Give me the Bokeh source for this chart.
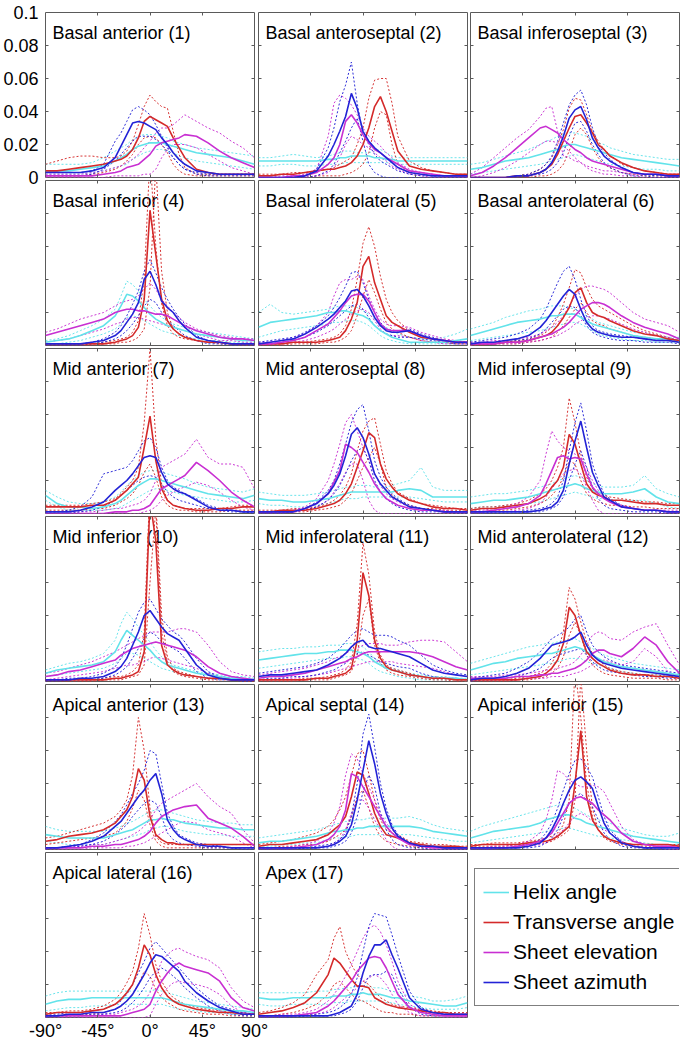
from bokeh.plotting import figure
from bokeh.layouts import gridplot, column, row
from bokeh.models import (LinearAxis, FixedTicker, CustomJSTickFormatter, Label,
                          Legend, LegendItem)
from bokeh.embed import file_html
from bokeh.resources import INLINE

# angle grid (degrees) shared by every curve
ANGLES = [-90, -80, -70, -60, -50, -40, -30, -25, -20, -15, -10, -5, 0,
          5, 10, 15, 20, 25, 30, 40, 50, 60, 70, 80, 90]
# all curve values below are in units of 0.001 (probability density)
UNIT = 0.001

SERIES = ["Helix angle", "Transverse angle", "Sheet elevation", "Sheet azimuth"]
COLORS = ["#62e3ea", "#d42a2a", "#c82fd2", "#2323d6"]

TITLES = ["Basal anterior (1)", "Basal anteroseptal (2)", "Basal inferoseptal (3)",
          "Basal inferior (4)", "Basal inferolateral (5)", "Basal anterolateral (6)",
          "Mid anterior (7)", "Mid anteroseptal (8)", "Mid inferoseptal (9)",
          "Mid inferior (10)", "Mid inferolateral (11)", "Mid anterolateral (12)",
          "Apical anterior (13)", "Apical septal (14)", "Apical inferior (15)",
          "Apical lateral (16)", "Apex (17)"]

Y_TICKS = [0, 0.02, 0.04, 0.06, 0.08, 0.1]
X_TICKS = [-90, -45, 0, 45, 90]

# each series: (solid curve, dotted curve a, dotted curve b)
hx1 = ([4,4,4,5,6,7,10,12,14,17,19,20,21,21,21,20,19,18,17,15,14,13,12,10,8],
       [8,8,8,8,9,12,16,18,20,23,25,26,26,26,25,24,22,21,20,18,17,16,15,14,13],
       [2,2,2,2,3,4,6,7,8,11,13,15,16,17,17,16,15,13,12,10,9,8,7,6,5])
tr1 = ([4,4,5,6,7,8,10,11,13,17,24,34,37,35,33,31,24,18,12,5,3,2,2,2,2],
       [8,10,12,13,13,12,12,13,16,22,32,43,50,46,43,42,28,14,6,2,2,2,2,2,2],
       [1,1,1,1,2,3,5,7,10,14,20,24,25,24,20,15,8,4,2,1,1,1,1,1,1])
el1 = ([1,1,1,1,1,2,3,4,6,7,8,11,14,19,21,22,23,24,26,25,21,16,12,9,6],
       [2,2,2,2,3,4,6,7,9,11,14,18,22,27,30,30,32,35,38,34,30,27,22,18,12],
       [0,0,0,0,0,0,1,1,1,1,1,2,2,5,12,17,20,20,20,18,14,10,6,4,2])
az1 = ([3,3,3,3,4,6,12,19,26,33,34,33,31,29,24,20,15,11,8,4,3,2,2,2,2],
       [3,3,3,3,4,8,22,27,34,41,43,41,38,32,25,18,12,8,5,3,2,2,2,2,2],
       [1,1,1,1,2,5,10,14,18,22,25,25,25,23,20,16,12,8,5,2,1,1,1,1,1])

hx2 = ([10,10,10,10,10,10,11,11,12,12,13,13,13,13,12,12,11,11,10,10,10,10,10,10,10],
       [12,12,13,14,13,12,13,14,15,16,16,15,15,15,16,17,15,13,12,12,12,12,12,12,12],
       [7,7,8,8,7,7,8,8,8,9,9,9,9,9,9,9,9,9,8,8,8,8,8,8,8])
tr2 = ([1,1,2,2,3,4,5,5,6,7,9,13,20,30,43,49,40,28,16,7,5,4,3,2,2],
       [2,2,2,3,3,4,5,6,8,10,12,20,30,48,59,60,60,45,25,10,6,4,3,2,2],
       [0,0,0,0,0,1,1,1,1,2,3,5,8,15,30,40,38,20,8,3,2,1,1,1,1])
el2 = ([0,0,0,1,1,3,8,12,20,34,38,33,26,21,17,15,12,10,8,4,3,2,1,1,1],
       [0,0,1,1,2,5,25,45,50,48,44,38,30,25,22,19,15,12,9,5,3,2,1,1,1],
       [0,0,0,0,0,1,3,6,12,20,25,23,20,18,15,12,10,7,5,2,1,0,0,0,0])
az2 = ([0,0,0,0,1,4,13,20,28,37,51,42,28,22,18,15,12,9,6,3,2,1,1,1,1],
       [0,0,0,0,1,5,18,30,46,56,70,45,26,20,14,10,8,6,4,2,1,1,1,1,1],
       [0,0,0,0,0,1,4,8,15,22,30,36,22,8,3,1,0,0,0,0,0,0,0,0,0])

hx3 = ([5,6,8,10,11,12,14,15,16,17,19,20,20,19,18,17,16,15,14,12,11,10,9,8,7],
       [8,9,11,13,15,17,20,22,23,25,26,27,27,26,25,23,21,20,18,16,14,13,12,11,11],
       [2,3,4,5,6,7,8,9,10,11,12,13,14,13,12,11,10,9,8,7,6,5,5,4,4])
tr3 = ([0,0,0,0,1,1,3,5,8,14,22,30,37,38,33,27,20,17,13,9,6,4,3,2,2],
       [0,0,0,0,1,2,5,8,12,20,29,42,48,47,38,28,22,17,14,8,6,4,3,2,2],
       [0,0,0,0,0,0,1,1,2,4,8,16,26,30,26,18,12,8,6,3,2,1,1,1,1])
el3 = ([1,3,7,12,18,24,30,31,29,27,23,20,17,15,12,10,9,8,7,5,3,2,2,1,1],
       [2,6,12,18,24,29,37,42,43,28,13,12,10,9,7,6,5,4,4,3,2,2,2,2,2],
       [0,1,3,6,10,15,20,22,22,21,19,16,12,9,6,4,3,2,2,1,1,0,0,0,0])
az3 = ([0,0,0,0,1,1,3,5,9,16,25,36,41,43,35,24,18,13,10,6,3,2,2,1,1],
       [0,0,0,0,1,2,5,8,13,22,33,44,50,53,44,30,20,15,11,6,3,2,1,1,1],
       [0,0,0,0,0,1,2,3,5,9,15,25,33,34,28,20,14,9,6,3,1,1,0,0,0])

hx4 = ([2,3,4,6,9,12,18,24,31,30,27,23,19,16,14,12,11,10,9,7,6,5,4,3,3],
       [3,4,6,9,12,16,22,30,39,37,33,28,24,20,17,15,13,12,11,9,8,7,6,5,4],
       [1,1,2,3,5,7,10,13,17,18,17,15,13,11,9,8,7,6,5,4,3,3,2,2,2])
tr4 = ([1,1,1,1,1,1,2,3,4,6,11,28,82,55,28,15,10,7,5,3,2,2,1,1,1],
       [1,1,1,1,1,2,3,4,5,8,15,40,115,60,25,12,7,5,4,3,2,2,1,1,1],
       [0,0,0,0,0,1,1,2,2,3,5,10,35,110,45,20,10,7,5,3,2,1,1,0,0])
el4 = ([6,8,10,12,14,16,20,21,22,22,21,21,20,19,19,18,16,14,12,9,7,5,4,4,3],
       [8,10,13,16,18,20,24,26,27,28,30,34,38,34,28,24,20,17,14,10,8,6,5,4,4],
       [2,3,4,6,8,10,13,14,16,17,17,16,15,14,13,12,11,10,9,7,5,3,3,2,2])
az4 = ([1,1,1,1,2,3,6,9,14,19,26,40,45,37,27,23,20,15,11,5,3,2,1,1,1],
       [1,1,1,1,2,4,8,12,18,25,33,45,52,44,35,28,22,17,13,6,3,2,1,1,1],
       [0,0,0,0,1,2,4,6,9,13,18,24,28,26,20,15,12,9,6,3,1,1,0,0,0])

hx5 = ([11,14,15,16,17,18,20,20,21,21,20,19,18,16,12,9,7,5,4,2,2,2,2,3,4],
       [20,25,20,19,20,21,22,23,24,24,24,23,21,19,16,13,11,9,7,5,4,4,5,7,10],
       [5,7,9,10,11,12,13,14,14,15,15,15,14,12,9,6,4,3,2,1,1,1,1,1,2])
tr5 = ([1,1,1,2,2,2,3,4,5,9,16,26,48,54,38,28,18,14,12,8,5,4,3,2,2],
       [1,1,1,2,2,3,4,5,7,12,22,40,62,72,60,42,28,20,15,9,6,4,3,2,2],
       [0,0,0,1,1,1,2,2,3,5,9,18,30,40,32,22,14,10,8,5,3,2,2,1,1])
el5 = ([1,1,2,3,5,9,13,17,21,26,30,31,31,27,20,13,10,9,9,9,6,4,3,2,2],
       [2,2,3,5,7,12,20,30,38,40,40,42,40,30,22,16,13,12,12,11,8,6,4,3,2],
       [0,1,1,2,3,5,8,10,13,16,19,21,22,20,15,10,7,6,6,5,3,2,1,1,1])
az5 = ([1,2,3,4,7,11,16,19,23,27,33,34,30,24,17,12,9,8,8,9,6,4,3,2,2],
       [2,3,4,5,8,12,18,23,29,36,44,45,38,28,20,14,10,9,9,10,7,5,3,2,2],
       [1,1,2,3,5,8,12,15,18,21,24,25,22,17,12,9,7,6,5,5,4,3,2,1,1])

hx6 = ([6,8,10,12,14,15,16,17,18,18,19,19,19,17,15,13,12,11,10,8,6,5,4,4,3],
       [10,12,14,17,19,21,22,23,24,24,24,23,22,20,18,16,14,13,12,10,8,7,6,5,5],
       [3,4,5,6,7,8,9,10,11,12,13,14,14,13,11,9,7,6,5,4,3,3,2,2,2])
tr6 = ([1,1,1,2,2,3,5,6,8,12,17,23,32,35,26,20,18,17,15,12,9,7,6,4,3],
       [1,1,2,2,3,4,6,8,11,17,25,35,46,44,35,28,24,22,20,16,12,9,7,5,3],
       [0,0,1,1,1,2,3,4,5,8,12,17,22,26,20,15,13,12,10,8,6,5,4,3,2])
el6 = ([1,1,1,2,2,3,5,6,7,9,11,14,18,22,24,26,26,25,23,18,14,11,9,7,4],
       [2,2,3,3,4,5,7,9,11,14,18,24,30,34,36,36,35,34,32,26,20,16,14,12,8],
       [0,1,1,1,1,2,3,4,5,6,8,10,13,15,17,18,18,17,16,13,10,8,6,5,3])
az6 = ([1,2,2,3,4,6,11,15,20,25,30,34,31,22,14,10,8,7,6,5,5,4,3,3,2],
       [2,3,4,5,7,10,16,22,30,38,45,48,40,28,18,12,9,8,7,6,5,4,4,3,3],
       [1,1,1,2,3,4,7,10,14,18,22,24,23,18,12,8,6,5,4,3,3,2,2,2,1])

hx7 = ([11,6,4,4,3,4,6,8,11,14,17,19,21,21,20,19,18,17,16,14,12,11,10,9,11],
       [14,10,7,6,6,7,10,13,17,20,23,25,26,26,25,24,23,22,21,18,16,15,14,13,15],
       [8,4,2,2,2,2,3,4,6,8,10,12,14,15,15,14,13,12,11,10,9,8,7,7,8])
tr7 = ([4,4,4,4,5,5,8,11,14,18,22,40,59,32,15,8,5,4,3,2,2,3,3,4,4],
       [5,5,5,5,6,7,9,12,16,20,28,55,100,45,18,8,5,4,3,3,3,3,4,5,5],
       [2,2,2,2,3,3,5,7,9,12,17,25,30,22,10,5,3,2,2,1,1,1,2,2,2])
el7 = ([0,0,0,0,0,0,1,1,1,2,2,3,5,10,15,17,19,21,23,31,26,20,13,8,4],
       [1,1,1,1,1,2,3,3,4,5,6,8,12,20,28,30,32,34,36,45,34,30,30,28,15],
       [0,0,0,0,0,0,0,0,0,0,0,1,2,4,8,11,13,15,16,19,17,13,8,4,2])
az7 = ([1,1,1,2,4,7,14,17,20,24,29,34,35,34,25,18,15,13,12,8,4,2,2,1,1],
       [1,1,2,4,10,24,26,27,28,32,38,44,46,40,28,20,16,14,12,9,5,3,2,1,1],
       [0,0,0,1,2,4,8,11,14,17,20,22,23,22,18,13,10,8,7,5,3,2,1,1,0])

hx8 = ([9,8,8,7,7,8,9,10,11,12,13,13,13,13,13,13,13,13,14,15,14,10,10,10,10],
       [13,12,11,11,11,12,13,14,15,16,16,17,17,17,16,16,16,17,18,20,28,16,14,14,14],
       [6,5,5,4,4,5,6,7,8,9,9,9,10,10,10,10,10,10,10,10,9,8,7,7,7])
tr8 = ([1,1,2,2,2,3,5,6,8,12,18,28,38,49,46,30,21,16,12,8,6,4,3,3,2],
       [2,2,2,3,3,4,6,8,11,16,24,38,50,56,58,42,26,18,13,9,6,5,4,3,3],
       [1,1,1,1,1,2,3,4,5,8,12,20,28,34,40,30,16,11,8,5,3,3,2,2,1])
el8 = ([1,1,1,1,3,6,12,19,26,42,40,37,31,25,18,13,9,7,5,3,2,2,1,1,1],
       [1,1,1,2,4,9,20,30,42,55,60,50,40,32,24,17,12,9,7,4,3,2,2,1,1],
       [0,0,0,1,2,4,8,13,18,25,30,30,20,8,2,0,0,0,0,0,0,0,0,0,0])
az8 = ([1,1,1,1,3,6,12,17,24,35,48,52,46,36,24,18,14,10,8,4,3,2,1,1,1],
       [1,1,1,1,3,7,14,20,30,42,55,63,66,50,32,22,16,12,9,5,3,2,1,1,1],
       [0,0,0,1,2,4,8,12,17,24,32,38,40,32,20,13,9,6,4,2,1,1,1,0,0])

hx9 = ([6,7,8,8,9,10,12,13,14,15,16,17,18,17,15,14,13,12,12,12,13,15,10,7,6],
       [10,11,12,12,13,14,16,17,18,20,21,22,23,22,20,18,17,16,16,16,17,23,15,12,10],
       [3,4,4,5,5,6,7,8,9,10,11,12,13,12,11,10,9,9,8,8,8,8,6,4,3])
tr9 = ([2,3,3,4,5,6,9,11,16,20,28,48,42,30,18,13,11,10,8,8,7,6,6,5,5],
       [3,4,4,5,6,8,12,15,20,28,40,70,55,36,22,15,12,11,10,9,8,7,7,6,6],
       [1,1,2,2,3,4,6,8,11,15,22,32,30,20,12,9,7,6,5,5,4,4,3,3,3])
el9 = ([1,1,2,3,4,6,11,18,26,34,35,33,34,33,24,16,12,9,7,4,3,2,2,1,1],
       [2,2,3,4,6,10,20,36,50,44,40,38,36,34,28,20,14,10,8,5,3,2,2,2,2],
       [0,0,1,1,2,3,6,10,15,20,24,26,27,24,16,8,2,0,0,0,0,0,0,0,0])
az9 = ([1,1,1,1,1,1,2,3,4,7,14,30,44,56,40,25,17,10,8,4,3,2,2,1,1],
       [1,1,1,1,1,2,3,4,6,10,20,38,55,67,50,30,20,12,9,5,3,2,2,1,1],
       [0,0,0,0,0,1,1,2,3,5,10,20,30,38,28,16,9,5,3,2,1,1,1,0,0])

hx10 = ([5,7,8,9,10,12,18,25,31,28,25,22,19,15,12,10,9,8,7,5,4,3,2,2,1],
        [7,9,11,12,14,17,25,35,42,38,33,28,24,19,15,12,10,9,8,6,5,4,3,3,2],
        [3,4,5,6,7,8,11,14,17,17,16,14,12,10,8,7,6,5,4,3,2,2,1,1,1])
tr10 = ([1,1,1,1,1,1,2,2,3,4,6,18,110,85,22,10,7,5,4,3,2,2,1,1,1],
        [1,1,1,1,1,2,3,3,4,6,10,30,120,110,40,15,8,6,5,3,2,2,1,1,1],
        [0,0,0,0,0,1,1,1,2,3,4,10,60,105,30,12,6,4,3,2,1,1,1,0,0])
el10 = ([3,4,6,7,9,11,13,16,18,20,21,22,23,24,23,22,21,20,19,15,9,5,3,2,1],
        [5,6,8,10,12,15,18,20,22,24,26,28,30,30,30,30,31,32,32,30,22,12,6,4,3],
        [1,2,3,4,5,6,8,9,10,10,11,12,14,15,14,13,12,11,10,8,5,3,2,1,1])
az10 = ([1,1,1,2,2,3,6,9,14,22,30,40,43,38,33,29,27,25,20,10,4,2,1,1,1],
        [1,1,2,2,3,5,9,14,22,32,42,48,50,44,38,34,30,28,24,14,6,3,2,1,1],
        [0,0,1,1,1,2,4,6,9,14,20,26,30,28,24,22,20,18,14,6,2,1,1,0,0])

hx11 = ([13,14,15,16,17,17,18,18,19,19,19,18,17,15,12,10,8,7,6,4,3,2,2,2,1],
        [18,19,20,20,21,21,22,22,22,23,23,22,21,18,14,11,9,8,7,5,4,3,3,2,2],
        [8,9,10,11,12,13,14,14,14,15,15,14,13,11,8,6,5,4,3,2,1,1,1,1,0])
tr11 = ([1,1,1,1,1,2,2,3,4,5,8,25,66,52,25,14,9,7,6,4,3,2,2,1,1],
        [1,1,1,1,2,2,3,4,5,7,12,35,84,65,30,16,10,8,7,5,3,2,2,1,1],
        [0,0,0,0,1,1,1,2,3,4,6,16,40,50,22,11,7,5,4,3,2,1,1,0,0])
el11 = ([2,3,3,4,5,7,9,10,11,12,14,15,17,18,18,18,18,18,18,18,17,15,12,9,7],
        [4,5,6,7,8,10,12,14,15,17,19,20,22,23,23,23,22,22,22,24,25,25,24,18,12],
        [1,1,2,2,3,4,5,6,7,8,9,10,11,12,12,12,12,12,11,10,9,8,6,4,3])
az11 = ([3,4,4,5,6,7,10,12,14,17,21,24,25,21,20,20,19,18,17,15,11,7,5,4,3],
        [5,6,7,8,9,11,14,17,20,24,28,31,32,30,28,28,28,27,25,22,16,10,7,5,4],
        [1,2,2,3,3,4,6,7,9,11,14,17,18,16,14,12,11,10,9,8,5,3,2,2,1])

hx12 = ([7,9,11,12,14,15,16,17,17,18,19,20,21,20,18,16,14,12,11,9,8,7,6,5,4],
        [11,13,15,17,19,21,22,23,23,24,25,25,26,24,22,20,18,16,15,13,11,10,9,8,7],
        [4,5,6,7,8,9,10,11,11,12,13,14,14,14,12,11,10,9,8,6,5,4,4,3,3])
tr12 = ([1,1,1,1,1,2,3,5,8,13,23,45,40,28,18,14,11,9,7,5,4,4,3,3,2],
        [1,1,1,1,2,3,5,7,11,18,30,57,50,36,24,17,13,10,8,6,5,4,4,3,3],
        [0,0,0,0,1,1,2,3,5,8,15,28,36,28,16,10,7,5,4,3,2,2,2,1,1])
el12 = ([2,2,2,2,3,3,4,4,5,5,6,7,8,10,13,17,19,19,17,15,20,27,22,12,5],
        [3,3,3,4,4,5,6,7,7,8,9,10,12,16,22,28,30,29,26,25,30,33,35,22,10],
        [1,1,1,1,1,2,2,2,3,3,3,4,5,6,8,10,12,13,12,10,12,20,15,6,2])
az12 = ([1,2,2,3,5,8,14,18,22,23,24,25,27,30,22,16,13,11,10,8,7,6,5,4,3],
        [2,3,4,5,8,12,18,22,26,28,30,33,38,40,30,22,18,15,13,10,9,8,7,6,5],
        [0,1,1,2,3,5,8,11,14,16,17,18,19,20,16,12,9,7,6,5,4,3,3,2,2])

hx13 = ([9,8,7,7,7,7,9,10,11,12,14,16,18,18,19,18,18,17,16,15,14,13,13,12,12],
        [14,12,11,11,11,11,13,14,16,17,19,21,23,24,24,23,22,21,20,18,17,16,16,15,15],
        [5,4,3,3,3,3,5,6,7,8,9,10,12,13,14,14,13,12,11,10,9,9,8,8,8])
tr13 = ([5,6,8,9,10,12,16,20,24,32,49,42,20,9,6,4,4,3,3,3,3,3,3,3,3],
        [7,8,10,12,14,16,20,24,30,45,80,60,25,8,4,3,3,3,3,3,3,3,3,3,3],
        [3,4,5,6,7,8,10,13,17,25,36,30,15,5,2,1,1,1,1,1,1,1,1,1,1])
el13 = ([1,1,1,1,2,2,3,3,4,5,6,8,11,16,20,22,24,25,26,27,19,16,13,8,2],
        [1,1,2,2,3,3,5,6,7,9,11,14,18,24,28,30,32,34,36,40,32,26,22,12,4],
        [0,0,0,0,1,1,1,1,2,2,3,4,6,8,10,12,14,16,17,16,12,10,8,4,1])
az13 = ([1,1,2,3,5,8,14,17,22,27,32,36,42,46,34,18,12,8,6,3,2,2,1,1,1],
        [1,1,2,3,6,10,17,21,27,34,40,48,60,58,40,22,14,9,7,4,3,2,1,1,1],
        [0,1,1,2,3,5,9,12,15,20,24,28,30,28,20,10,6,4,3,2,1,1,1,0,0])

hx14 = ([4,5,5,6,7,8,10,11,11,12,12,13,13,14,14,14,14,14,14,14,13,11,10,9,8],
        [7,8,9,10,11,12,14,15,16,17,17,18,18,19,19,19,19,19,19,20,18,15,13,12,11],
        [2,2,3,3,4,4,6,7,7,8,8,9,9,9,9,9,9,9,9,9,8,7,6,5,5])
tr14 = ([2,3,3,4,5,6,9,12,15,20,32,47,45,34,22,14,9,8,7,4,3,2,2,2,1],
        [3,4,5,6,8,10,14,18,24,32,45,58,60,46,30,18,12,10,9,5,4,3,3,2,2],
        [1,1,2,2,3,3,5,7,9,12,20,32,36,25,14,8,5,4,3,2,1,1,1,1,1])
el14 = ([1,1,1,1,2,3,6,9,14,24,46,44,38,32,26,20,14,10,7,3,2,1,1,1,1],
        [1,1,1,2,3,5,10,16,26,45,58,55,46,38,30,22,16,12,8,4,2,2,1,1,1],
        [0,0,0,0,1,1,2,4,6,12,22,30,30,25,18,12,6,2,0,0,0,0,0,0,0])
az14 = ([1,1,1,1,1,1,2,3,5,8,15,30,48,66,52,34,22,13,8,4,2,2,1,1,1],
        [1,1,1,1,1,2,3,4,6,10,20,40,70,82,62,40,25,15,9,4,2,2,1,1,1],
        [0,0,0,0,1,1,1,2,3,5,10,20,35,45,38,22,12,6,3,1,1,0,0,0,0])

hx15 = ([7,9,11,12,13,14,16,18,19,20,21,21,19,18,16,15,14,13,12,10,8,7,6,5,4],
        [11,14,16,18,20,22,24,25,26,27,27,27,25,23,21,19,18,17,16,13,11,9,8,8,10],
        [4,5,6,7,8,9,10,11,12,12,13,13,12,11,10,9,8,8,7,6,5,4,3,3,3])
tr15 = ([2,3,3,3,3,4,5,5,6,8,11,14,40,72,32,18,12,8,6,4,3,3,3,3,2],
        [3,3,4,4,4,5,6,7,8,10,15,30,110,80,40,20,12,8,6,4,3,3,3,3,3],
        [2,2,2,2,3,3,4,4,5,7,9,12,30,105,60,25,12,7,5,3,2,2,2,2,2])
el15 = ([1,1,1,1,2,3,5,7,10,16,22,28,31,32,30,28,24,21,18,10,5,3,2,2,1],
        [1,1,2,2,3,5,10,18,30,48,46,42,40,38,38,39,38,35,28,14,6,3,2,2,2],
        [0,0,0,1,1,2,3,4,6,9,12,16,20,22,20,17,14,12,10,5,2,1,1,0,0])
az15 = ([1,1,1,1,1,2,4,7,12,19,28,36,42,44,41,37,26,16,10,4,2,1,1,1,1],
        [1,1,1,1,2,3,6,10,16,25,36,46,54,55,50,44,32,20,12,5,2,1,1,1,1],
        [0,0,0,1,1,1,2,4,7,12,20,28,32,34,30,26,18,10,6,2,1,1,0,0,0])

hx16 = ([8,10,11,11,12,12,12,12,12,12,12,12,12,12,12,11,10,9,8,7,6,5,4,4,3],
        [13,15,16,16,16,16,16,16,16,16,16,16,16,17,16,15,14,13,12,10,9,8,7,6,5],
        [4,5,6,6,7,7,8,8,8,8,8,8,8,8,8,7,6,5,5,4,3,3,2,2,2])
tr16 = ([2,3,3,3,4,5,8,11,15,20,30,44,38,26,18,13,10,8,7,5,4,3,3,2,2],
        [3,3,4,4,5,7,11,15,21,28,42,63,50,32,22,16,12,10,8,6,5,4,3,3,2],
        [1,1,1,2,2,3,5,7,10,14,20,28,25,17,12,9,7,5,4,3,2,2,1,1,1])
el16 = ([1,1,1,1,1,1,1,1,2,3,4,5,8,16,22,27,31,33,31,29,27,22,12,6,4],
        [1,1,1,1,1,2,2,3,4,5,7,10,15,25,34,38,41,42,40,37,35,30,18,10,6],
        [0,0,0,0,0,0,0,0,0,0,0,0,1,8,14,18,21,22,21,20,18,14,7,3,2])
az16 = ([1,1,2,2,3,3,5,7,10,14,20,26,33,38,37,34,31,28,22,15,10,6,4,2,2],
        [2,2,3,3,4,5,8,10,14,20,27,34,42,46,42,38,34,30,26,18,12,7,5,3,2],
        [0,1,1,1,2,2,3,4,6,9,13,18,24,28,30,28,25,22,18,12,7,4,2,1,1])

hx17 = ([12,11,11,12,12,12,12,13,13,13,14,14,15,14,14,14,13,12,12,10,9,8,7,7,9],
        [15,15,15,15,15,16,16,17,17,18,18,19,19,19,18,18,17,16,15,13,12,10,10,11,13],
        [8,7,7,8,8,8,8,9,9,9,10,10,10,10,10,10,9,9,8,7,6,5,5,5,6])
tr17 = ([2,3,4,6,9,15,26,36,33,28,23,19,19,18,12,10,8,7,6,5,4,3,3,2,2],
        [3,4,6,9,14,26,35,48,55,40,32,26,22,20,16,12,10,8,7,6,5,4,3,3,3],
        [1,1,2,3,5,8,14,20,22,18,14,11,10,8,6,4,3,3,2,2,1,1,1,1,1])
el17 = ([1,1,1,1,2,3,7,10,14,18,22,28,32,36,37,36,30,22,14,6,3,2,1,1,1],
        [1,1,2,2,3,5,10,14,19,25,32,40,48,54,56,52,44,34,22,8,4,2,2,1,1],
        [0,0,0,1,1,2,4,6,9,12,15,18,22,24,26,24,20,14,8,3,1,1,0,0,0])
az17 = ([1,1,1,1,1,1,1,2,3,5,7,14,27,37,44,44,47,38,30,12,5,3,2,2,2],
        [1,1,1,1,2,2,3,4,6,9,14,24,40,55,63,62,61,50,38,16,6,3,2,2,2],
        [0,0,0,0,1,1,1,1,2,3,5,10,18,25,26,26,28,26,18,6,2,1,1,1,1])

PANELS = [(hx1, tr1, el1, az1), (hx2, tr2, el2, az2), (hx3, tr3, el3, az3),
          (hx4, tr4, el4, az4), (hx5, tr5, el5, az5), (hx6, tr6, el6, az6),
          (hx7, tr7, el7, az7), (hx8, tr8, el8, az8), (hx9, tr9, el9, az9),
          (hx10, tr10, el10, az10), (hx11, tr11, el11, az11), (hx12, tr12, el12, az12),
          (hx13, tr13, el13, az13), (hx14, tr14, el14, az14), (hx15, tr15, el15, az15),
          (hx16, tr16, el16, az16), (hx17, tr17, el17, az17)]

FONT = "Liberation Sans"
FRAME_COLOR = "#5a5a5a"
FW, FH = 209, 165          # plot frame of each small panel, px
YLAB_W = 45                # width of the shared y tick-label strip
TOP0 = 12                  # space above the first row of panels
RIGHT_PAD = [2, 1, 6]      # right border per column
LEFT_PAD = [0, 2, 2]       # left border per column


def tick_axis(ticks):
    ax = LinearAxis(ticker=FixedTicker(ticks=ticks))
    ax.axis_line_color = None
    ax.major_tick_in = 3
    ax.major_tick_out = 0
    ax.major_tick_line_color = FRAME_COLOR
    ax.minor_tick_line_color = None
    ax.major_label_text_font_size = "0px"
    ax.major_label_text_color = None
    ax.major_label_standoff = 0
    return ax


def make_panel(idx):
    r, c = divmod(idx, 3)
    left, right = LEFT_PAD[c], RIGHT_PAD[c]
    top = TOP0 if r == 0 else 1
    bottom = 2
    p = figure(width=FW + left + right, height=FH + top + bottom,
               x_range=(-90, 90), y_range=(0, 0.1),
               x_axis_location=None, y_axis_location=None,
               toolbar_location=None, tools="", output_backend="svg",
               min_border_left=left, min_border_right=right,
               min_border_top=top, min_border_bottom=bottom)
    p.xgrid.visible = False
    p.ygrid.visible = False
    p.outline_line_color = FRAME_COLOR
    p.outline_line_width = 1
    p.background_fill_color = "white"
    p.border_fill_color = "white"

    p.add_layout(tick_axis(Y_TICKS[1:-1]), "left")
    p.add_layout(tick_axis(Y_TICKS[1:-1]), "right")
    p.add_layout(tick_axis(X_TICKS[1:-1]), "below")
    p.add_layout(tick_axis(X_TICKS[1:-1]), "above")

    p.add_layout(Label(x=-90, y=0.1, x_offset=7, y_offset=-20, text=TITLES[idx],
                       text_font=FONT, text_font_size="18px", text_color="black",
                       text_baseline="alphabetic", level="underlay"))

    series = PANELS[idx]
    for (solid, da, db), color in zip(series, COLORS):
        for d in (da, db):
            p.line(ANGLES, [v * UNIT for v in d], line_color=color,
                   line_width=1, line_dash="2 2", line_alpha=0.95)
    for (solid, da, db), color in zip(series, COLORS):
        p.line(ANGLES, [v * UNIT for v in solid], line_color=color, line_width=1.6)
    return p


figs = [make_panel(i) for i in range(len(PANELS))]

# legend cell (row 6, column 3)
lf = figure(width=FW + LEFT_PAD[2] + RIGHT_PAD[2], height=FH + 3,
            x_range=(0, 1), y_range=(0, 1),
            x_axis_location=None, y_axis_location=None, toolbar_location=None,
            tools="", output_backend="svg", min_border_left=LEFT_PAD[2],
            min_border_right=RIGHT_PAD[2], min_border_top=1, min_border_bottom=2,
            outline_line_color=None)
lf.xgrid.visible = False
lf.ygrid.visible = False
items = []
for name, color in zip(SERIES, COLORS):
    # legend proxy line placed outside the visible range of this empty cell
    rnd = lf.line(x=[0, 1], y=[-1, -1], line_color=color, line_width=1.6)
    items.append(LegendItem(label=name, renderers=[rnd]))
legend = Legend(items=items, location=(4, 11), margin=0, padding=8, spacing=0,
                glyph_width=26, glyph_height=30, label_height=30, label_standoff=4,
                label_text_font=FONT, label_text_font_size="21px",
                label_text_color="black", border_line_color="black",
                border_line_width=1.5, background_fill_color="white",
                background_fill_alpha=1.0)
lf.add_layout(legend)

rows = [figs[i:i + 3] for i in range(0, 15, 3)]
rows.append([figs[15], figs[16], lf])
grid = gridplot(rows, toolbar_location=None)

GRID_H = TOP0 + FH + 2 + 5 * (FH + 3)

# y tick labels (shared strip aligned with the first panel)
yf = figure(width=YLAB_W, height=GRID_H, x_range=(0, 1), y_range=(0, 0.1),
            x_axis_location=None, y_axis_location=None, toolbar_location=None,
            tools="", output_backend="svg", min_border_left=YLAB_W - 1,
            min_border_right=0, min_border_top=TOP0,
            min_border_bottom=GRID_H - TOP0 - FH, outline_line_color=None)
yf.xgrid.visible = False
yf.ygrid.visible = False
ya = LinearAxis(ticker=FixedTicker(ticks=Y_TICKS),
                formatter=CustomJSTickFormatter(code="return String(Math.round(tick*100)/100);"))
ya.axis_line_color = None
ya.major_tick_line_color = None
ya.minor_tick_line_color = None
ya.major_tick_in = 0
ya.major_tick_out = 0
ya.major_label_standoff = 6
ya.major_label_text_font = FONT
ya.major_label_text_font_size = "18px"
ya.major_label_text_color = "black"
yf.add_layout(ya, "left")

# shared x tick labels beneath the bottom-left panel
TOTAL_W = YLAB_W + 3 * FW + sum(LEFT_PAD) + sum(RIGHT_PAD)
axf = figure(width=TOTAL_W, height=23, x_range=(-90, 90), y_range=(0, 1),
             x_axis_location=None, y_axis_location=None, toolbar_location=None,
             tools="", output_backend="svg", min_border_left=YLAB_W,
             min_border_right=TOTAL_W - YLAB_W - FW,
             min_border_top=0, min_border_bottom=0, outline_line_color=None)
axf.xgrid.visible = False
axf.ygrid.visible = False
xa = LinearAxis(ticker=FixedTicker(ticks=X_TICKS),
                formatter=CustomJSTickFormatter(code="return tick + '\u00b0';"))
xa.axis_line_color = None
xa.major_tick_line_color = None
xa.minor_tick_line_color = None
xa.major_tick_in = 0
xa.major_tick_out = 0
xa.major_label_standoff = 1
xa.major_label_text_font = FONT
xa.major_label_text_font_size = "18px"
xa.major_label_text_color = "black"
axf.add_layout(xa, "below")

layout = column(row(yf, grid), axf)

open("out.html", "w").write(file_html(layout, INLINE, title="Fiber angle distributions"))
